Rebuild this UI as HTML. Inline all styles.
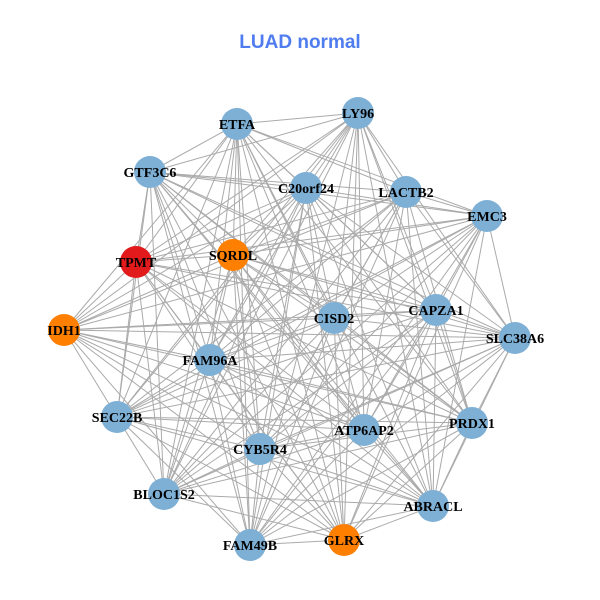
<!DOCTYPE html>
<html><head><meta charset="utf-8"><style>
html,body{margin:0;padding:0;background:#fff;}
svg{display:block;}
</style></head><body>
<svg id="s" width="600" height="600" xmlns="http://www.w3.org/2000/svg">
<rect width="600" height="600" fill="#fff"/>
<text x="300" y="48" text-anchor="middle" font-family="Liberation Sans, sans-serif" font-weight="bold" font-size="19" fill="#4f7df0">LUAD normal</text>
<g id="e" stroke="#aaaaaa" stroke-width="1"></g>
<g id="n"></g>
</svg>
<script>
var N=[["ETFA",237,124,0],["LY96",358,113,0],["GTF3C6",150,172,0],["C20orf24",306,188,0],["LACTB2",406,192,0],["EMC3",487,216,0],["TPMT",136,262,2],["SQRDL",233,255,1],["CISD2",334,318,0],["CAPZA1",436,310,0],["IDH1",64,330,1],["SLC38A6",515,338,0],["FAM96A",210,360,0],["SEC22B",117,417,0],["PRDX1",472,423,0],["ATP6AP2",364,430,0],["CYB5R4",260,449,0],["BLOC1S2",164,494,0],["ABRACL",433,506,0],["FAM49B",250,545,0],["GLRX",344,540,1]];
var C=["#7eb0d6","#ff8000","#e31a1c"];
var ns="http://www.w3.org/2000/svg",e=document.getElementById("e"),g=document.getElementById("n");
for(var i=0;i<N.length;i++)for(var j=i+1;j<N.length;j++){
 if((i*7+j*3)%11==0)continue;
 var l=document.createElementNS(ns,"line");
 l.setAttribute("x1",N[i][1]);l.setAttribute("y1",N[i][2]);l.setAttribute("x2",N[j][1]);l.setAttribute("y2",N[j][2]);e.appendChild(l);}
for(var i=0;i<N.length;i++){
 var c=document.createElementNS(ns,"circle");c.setAttribute("cx",N[i][1]);c.setAttribute("cy",N[i][2]);c.setAttribute("r",16);c.setAttribute("fill",C[N[i][3]]);g.appendChild(c);}
for(var i=0;i<N.length;i++){
 var t=document.createElementNS(ns,"text");t.setAttribute("x",N[i][1]);t.setAttribute("y",N[i][2]+5);t.setAttribute("text-anchor","middle");t.setAttribute("font-family","Liberation Serif, serif");t.setAttribute("font-weight","bold");t.setAttribute("font-size","14");t.textContent=N[i][0];g.appendChild(t);}
</script>
</body></html>
